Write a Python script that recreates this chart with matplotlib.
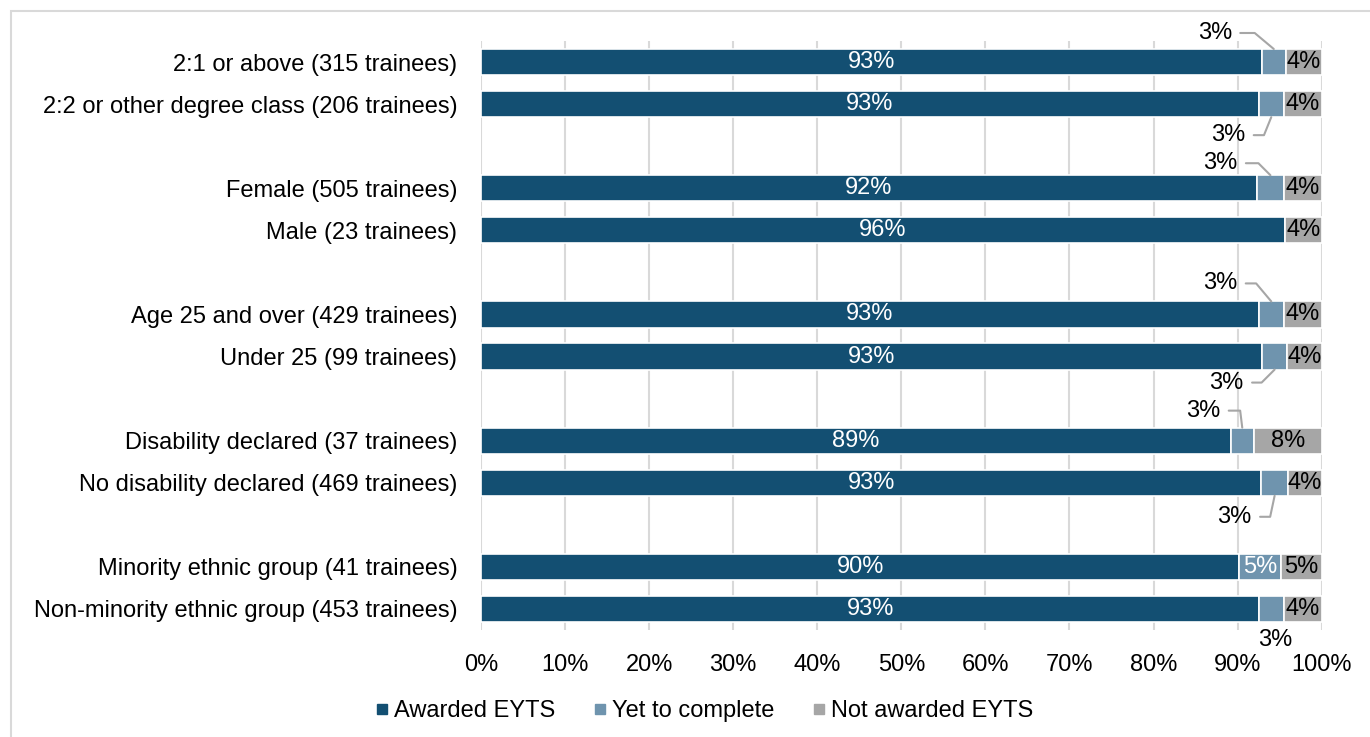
import matplotlib
matplotlib.use("Agg")
import matplotlib.pyplot as plt
from matplotlib.patches import Rectangle
import numpy as np

plt.rcParams['font.family'] = ['Liberation Sans', 'DejaVu Sans']

categories = [
    "2:1 or above (315 trainees)",
    "2:2 or other degree class (206 trainees)",
    None,
    "Female (505 trainees)",
    "Male (23 trainees)",
    None,
    "Age 25 and over (429 trainees)",
    "Under 25 (99 trainees)",
    None,
    "Disability declared (37 trainees)",
    "No disability declared (469 trainees)",
    None,
    "Minority ethnic group (41 trainees)",
    "Non-minority ethnic group (453 trainees)",
]
awarded = [92.9, 92.5, None, 92.3, 95.65, None, 92.5, 92.9, None, 89.2, 92.8, None, 90.2, 92.6]
yet_to_complete = [2.8, 3.0, None, 3.2, 0.0, None, 3.0, 3.0, None, 2.7, 3.2, None, 4.9, 2.9]
not_awarded = [4.3, 4.5, None, 4.5, 4.35, None, 4.5, 4.1, None, 8.1, 4.0, None, 4.9, 4.5]
awarded_labels = ["93%", "93%", None, "92%", "96%", None, "93%", "93%", None, "89%", "93%", None, "90%", "93%"]
yet_labels = ["3%", "3%", None, "3%", "", None, "3%", "3%", None, "3%", "3%", None, "5%", "3%"]
not_labels = ["4%", "4%", None, "4%", "4%", None, "4%", "4%", None, "8%", "4%", None, "5%", "4%"]
series_names = ["Awarded EYTS", "Yet to complete", "Not awarded EYTS"]
xticks = [0, 10, 20, 30, 40, 50, 60, 70, 80, 90, 100]

colors = ["#134F72", "#6F94AE", "#A6A6A6"]

# callout placement for small "yet to complete" labels: (dx, dy in pixels, leader angle, side)
callouts = {
    0: (-59, 16, -40, 'top'),
    1: (-43, -18, 68, 'bottom'),
    3: (-50, 12, -45, 'top'),
    6: (-51, 18, -50, 'top'),
    7: (-48, -13, 45, 'bottom'),
    9: (-39, 17, -83, 'top'),
    10: (-40, -21, 78, 'bottom'),
    13: (4, -18, None, 'bottom'),
}

W, H = 1370, 737
fig = plt.figure(figsize=(W / 100, H / 100), dpi=100)
fig.patches.append(Rectangle((11 / W, -0.05), 1.2, (726 / H) + 0.05, transform=fig.transFigure,
                             facecolor='none', edgecolor='#D9D9D9', linewidth=1.5))
ax = fig.add_axes([481 / W, 1 - 630 / H, (1321.7 - 481) / W, (630 - 41) / H])

h = 0.62
fs = 17
for i, cat in enumerate(categories):
    if cat is None:
        continue
    a, y_, n = awarded[i], yet_to_complete[i], not_awarded[i]
    ax.barh(i, a, left=0, height=h, color=colors[0], edgecolor='white', linewidth=1.2, zorder=3)
    if y_ > 0:
        ax.barh(i, y_, left=a, height=h, color=colors[1], edgecolor='white', linewidth=1.2, zorder=3)
    ax.barh(i, n, left=a + y_, height=h, color=colors[2], edgecolor='white', linewidth=1.2, zorder=3)
    ax.text(a / 2, i, awarded_labels[i], ha='center', va='center', color='white', fontsize=fs, zorder=4)
    ax.text(a + y_ + n / 2, i, not_labels[i], ha='center', va='center', color='black', fontsize=fs, zorder=4)
    if yet_labels[i]:
        if i in callouts:
            dx, dy, ang, side = callouts[i]
            yb = i - h / 2 if side == 'top' else i + h / 2
            if ang is None:
                ax.annotate(yet_labels[i], xy=(a + y_ / 2, yb), xytext=(dx, dy),
                            textcoords='offset pixels', ha='center', va='center',
                            fontsize=fs, color='black', annotation_clip=False)
            else:
                ax.annotate(yet_labels[i], xy=(a + y_ / 2, yb), xytext=(dx, dy),
                            textcoords='offset pixels', ha='center', va='center',
                            fontsize=fs, color='black', annotation_clip=False,
                            arrowprops=dict(arrowstyle='-', color='#A6A6A6', lw=1.5,
                                            relpos=(1, 0.5), shrinkA=4, shrinkB=0,
                                            connectionstyle=f"angle,angleA=0,angleB={ang},rad=0"))
        else:
            ax.text(a + y_ / 2, i, yet_labels[i], ha='center', va='center', color='white', fontsize=fs, zorder=4)

ax.set_xlim(0, 100)
ax.set_ylim(len(categories) - 0.5, -0.5)
ax.set_yticks([i for i, c in enumerate(categories) if c is not None])
ax.set_yticklabels([c for c in categories if c is not None], fontsize=fs)
ax.set_xticks(xticks)
ax.set_xticklabels([f"{t}%" for t in xticks], fontsize=fs)
ax.tick_params(length=0)
ax.tick_params(axis='y', pad=17)
ax.tick_params(axis='x', pad=17)
ax.grid(axis='x', color='#D9D9D9', linewidth=1.5, zorder=0)
ax.set_axisbelow(True)
for s in ax.spines.values():
    s.set_visible(False)

handles = [plt.Line2D([], [], marker='s', linestyle='none', markersize=7, color=c) for c in colors]
fig.legend(handles, series_names, loc='center', bbox_to_anchor=(703.5 / W, 1 - 711 / H), ncol=3,
           frameon=False, fontsize=fs, handletextpad=0.15, columnspacing=1.55, handlelength=0.7)

fig.savefig("out.png", dpi=100)
